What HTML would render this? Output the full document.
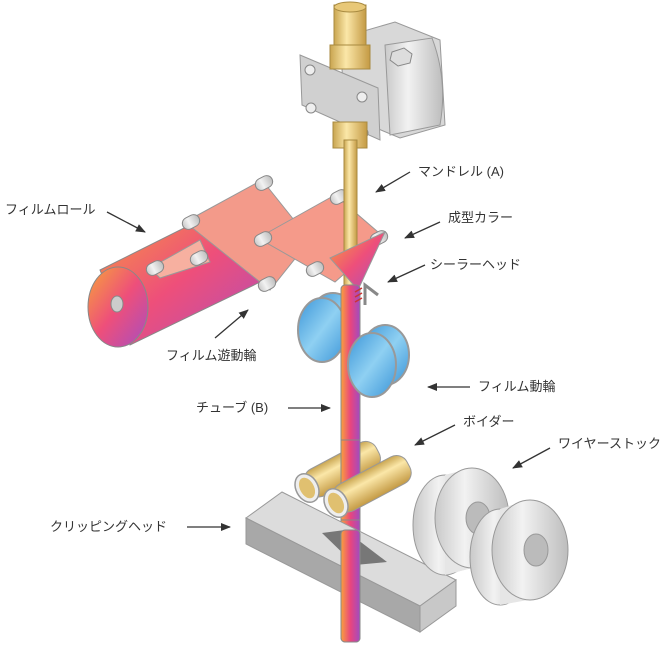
<!DOCTYPE html>
<html><head><meta charset="utf-8"><style>
html,body{margin:0;padding:0;background:#fff;width:670px;height:650px;overflow:hidden}
text{font-family:"Liberation Sans","Noto Sans CJK JP",sans-serif;font-size:13px;fill:#333}
</style></head><body>
<svg width="670" height="650" viewBox="0 0 670 650" xmlns="http://www.w3.org/2000/svg">
<defs>
<linearGradient id="film" x1="0" y1="0" x2="1" y2="1"><stop offset="0" stop-color="#f7a33a"/><stop offset=".5" stop-color="#ee4f7a"/><stop offset="1" stop-color="#a84ec0"/></linearGradient>
<linearGradient id="tube" x1="0" x2="1"><stop offset="0" stop-color="#f9a13c"/><stop offset=".5" stop-color="#e9457e"/><stop offset="1" stop-color="#a04cc0"/></linearGradient>
<linearGradient id="gold" x1="0" x2="1"><stop offset="0" stop-color="#c9a550"/><stop offset=".4" stop-color="#fbe7a8"/><stop offset="1" stop-color="#c49a44"/></linearGradient>
<linearGradient id="goldv" x1="0" y1="0" x2="0" y2="1"><stop offset="0" stop-color="#c9a550"/><stop offset=".35" stop-color="#fbe7a8"/><stop offset="1" stop-color="#c49a44"/></linearGradient>
<linearGradient id="gray" x1="0" x2="1"><stop offset="0" stop-color="#c9c9c9"/><stop offset=".4" stop-color="#f2f2f2"/><stop offset="1" stop-color="#bdbdbd"/></linearGradient>
<linearGradient id="blue" x1="0" y1="0" x2="1" y2="1"><stop offset="0" stop-color="#3b95d8"/><stop offset=".5" stop-color="#8fd0f2"/><stop offset="1" stop-color="#3b95d8"/></linearGradient>
<marker id="ar" markerWidth="10" markerHeight="8" refX="9" refY="4" orient="auto" markerUnits="userSpaceOnUse"><path d="M0,0L10,4L0,8z" fill="#333"/></marker>
</defs>

<!-- film roll -->
<path d="M100,270 L250,195 L285,270 L130,345 Z" fill="url(#film)" stroke="#888"/>
<ellipse cx="118" cy="307" rx="30" ry="40" fill="url(#film)" stroke="#888"/>
<ellipse cx="117" cy="304" rx="6" ry="8" fill="#ccc" stroke="#888"/>
<!-- film webs -->
<path d="M185,222 L262,180 L310,240 L270,290 Z" fill="#f39a8a" stroke="#999"/>
<path d="M258,238 L335,195 L385,238 L335,282 Z" fill="#f59a8a" stroke="#999"/>
<path d="M150,268 L200,240 L210,262 L160,278Z" fill="#f7b0a0" stroke="#999"/>
<g fill="url(#gray)" stroke="#888">
<rect x="182" y="216" width="18" height="12" rx="6" transform="rotate(-28 191 222)"/>
<rect x="255" y="177" width="18" height="12" rx="6" transform="rotate(-28 264 183)"/>
<rect x="146" y="262" width="18" height="12" rx="6" transform="rotate(-28 155 268)"/>
<rect x="190" y="252" width="18" height="12" rx="6" transform="rotate(-28 199 258)"/>
<rect x="254" y="233" width="18" height="12" rx="6" transform="rotate(-28 263 239)"/>
<rect x="330" y="191" width="18" height="12" rx="6" transform="rotate(-28 339 197)"/>
<rect x="258" y="278" width="18" height="12" rx="6" transform="rotate(-28 267 284)"/>
<rect x="306" y="263" width="18" height="12" rx="6" transform="rotate(-28 315 269)"/>
<rect x="370" y="232" width="18" height="12" rx="6" transform="rotate(-28 379 238)"/>
</g>

<!-- block top -->
<path d="M340,38 L395,22 L440,40 L445,125 L400,138 L345,115Z" fill="#d8d8d8" stroke="#999"/>
<path d="M385,45 L432,38 Q448,80 440,125 L390,135Z" fill="url(#gray)" stroke="#999"/>
<polygon points="392,52 404,48 412,54 410,63 398,66 390,60" fill="#ddd" stroke="#888"/>
<path d="M300,55 L378,88 L380,140 L302,105Z" fill="#d0d0d0" stroke="#999"/>
<circle cx="310" cy="70" r="5" fill="#eee" stroke="#888"/><circle cx="362" cy="97" r="5" fill="#eee" stroke="#888"/>
<circle cx="311" cy="108" r="5" fill="#eee" stroke="#888"/><circle cx="363" cy="133" r="5" fill="#eee" stroke="#888"/>
<rect x="334" y="5" width="32" height="50" fill="url(#gold)" stroke="#a88a40"/>
<ellipse cx="350" cy="7" rx="16" ry="5" fill="#e8c878" stroke="#a88a40"/>
<rect x="330" y="45" width="40" height="24" fill="url(#gold)" stroke="#a88a40"/>
<rect x="333" y="122" width="34" height="26" fill="url(#gold)" stroke="#a88a40"/>

<!-- mandrel -->
<rect x="344" y="140" width="13" height="150" fill="url(#gold)" stroke="#a88a40"/>
<path d="M330,258 L385,232 L358,290 Z" fill="url(#film)" stroke="#999"/>

<!-- blue wheel 1 (behind tube) -->
<ellipse cx="333" cy="323" rx="24" ry="30" fill="url(#blue)" stroke="#999" stroke-width="2"/>
<ellipse cx="322" cy="330" rx="24" ry="32" fill="url(#blue)" stroke="#999" stroke-width="2"/>

<!-- tube -->
<rect x="341" y="285" width="19" height="357" rx="4" fill="url(#tube)" stroke="#888"/>
<path d="M365,305 L365,285 L378,295" fill="none" stroke="#888" stroke-width="3"/>
<g stroke="#c33" stroke-width="1.5"><line x1="355" y1="292" x2="362" y2="288"/><line x1="355" y1="297" x2="362" y2="293"/><line x1="355" y1="302" x2="362" y2="298"/></g>

<!-- blue wheel 2 (in front) -->
<ellipse cx="385" cy="355" rx="24" ry="30" fill="url(#blue)" stroke="#999" stroke-width="2"/>
<ellipse cx="372" cy="365" rx="24" ry="32" fill="url(#blue)" stroke="#999" stroke-width="2"/>

<!-- boider cylinder 1 (behind tube) -->
<g transform="translate(307,488) rotate(-28)">
<rect x="0" y="-15" width="80" height="30" rx="12" fill="url(#goldv)" stroke="#999"/>
<ellipse cx="0" cy="0" rx="11" ry="15" fill="#eee" stroke="#999" stroke-width="1.5"/>
<ellipse cx="0" cy="0" rx="7" ry="11" fill="#e0c070"/>
</g>
<rect x="341" y="440" width="19" height="80" fill="url(#tube)" stroke="#888"/>
<g transform="translate(336,503) rotate(-28)">
<rect x="0" y="-15" width="82" height="30" rx="12" fill="url(#goldv)" stroke="#999"/>
<ellipse cx="0" cy="0" rx="11" ry="15" fill="#eee" stroke="#999" stroke-width="1.5"/>
<ellipse cx="0" cy="0" rx="7" ry="11" fill="#e0c070"/>
</g>

<!-- clipping block -->
<path d="M246,518 L282,492 L456,580 L420,606Z" fill="#dcdcdc" stroke="#999"/>
<path d="M246,518 L420,606 L420,632 L246,544Z" fill="#a8a8a8" stroke="#999"/>
<path d="M420,606 L456,580 L456,606 L420,632Z" fill="#c8c8c8" stroke="#999"/>
<path d="M322,533 L345,530 L387,562 L355,565Z" fill="#777"/>
<rect x="341" y="530" width="19" height="112" rx="4" fill="url(#tube)" stroke="#888"/>

<!-- wire stock -->
<path d="M445,475 L472,468 L472,568 L445,575Z" fill="#e6e6e6"/>
<ellipse cx="445" cy="525" rx="32" ry="50" fill="url(#gray)" stroke="#999"/>
<path d="M445,475 L472,468 L472,568 L445,575Z" fill="#e6e6e6"/>
<ellipse cx="472" cy="518" rx="37" ry="50" fill="url(#gray)" stroke="#999"/>
<ellipse cx="478" cy="518" rx="12" ry="16" fill="#bbb" stroke="#999"/>
<ellipse cx="500" cy="557" rx="30" ry="48" fill="url(#gray)" stroke="#999"/>
<path d="M500,509 L528,500 L528,600 L500,605Z" fill="#e6e6e6"/>
<ellipse cx="530" cy="550" rx="38" ry="50" fill="url(#gray)" stroke="#999"/>
<ellipse cx="536" cy="550" rx="12" ry="16" fill="#bbb" stroke="#999"/>

<!-- labels -->
<g stroke="#333" stroke-width="1.3" marker-end="url(#ar)">
<line x1="107" y1="212" x2="145" y2="232"/>
<line x1="410" y1="172" x2="376" y2="192"/>
<line x1="440" y1="222" x2="405" y2="238"/>
<line x1="425" y1="265" x2="388" y2="282"/>
<line x1="215" y1="338" x2="248" y2="310"/>
<line x1="470" y1="387" x2="428" y2="387"/>
<line x1="288" y1="408" x2="330" y2="408"/>
<line x1="455" y1="425" x2="415" y2="445"/>
<line x1="550" y1="448" x2="513" y2="468"/>
<line x1="187" y1="527" x2="230" y2="527"/>
</g>
<text x="5" y="214">フィルムロール</text>
<text x="418" y="176">マンドレル (A)</text>
<text x="448" y="222">成型カラー</text>
<text x="430" y="269">シーラーヘッド</text>
<text x="166" y="360">フィルム遊動輪</text>
<text x="478" y="391">フィルム動輪</text>
<text x="196" y="412">チューブ (B)</text>
<text x="463" y="426">ボイダー</text>
<text x="558" y="448">ワイヤーストック</text>
<text x="50" y="531">クリッピングヘッド</text>
</svg>
</body></html>
